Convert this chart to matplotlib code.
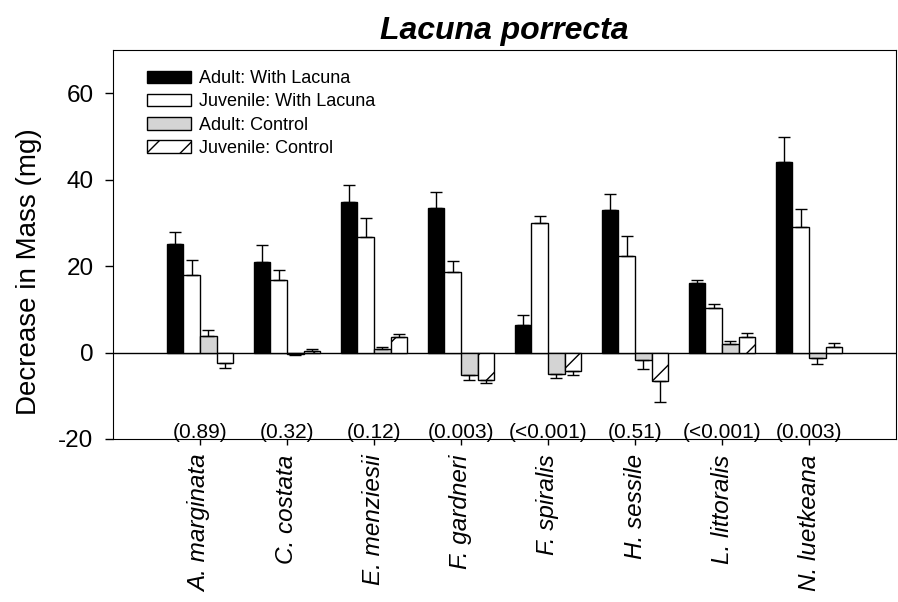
import numpy as np
import matplotlib
matplotlib.use("Agg")
import matplotlib.pyplot as plt

plt.rcParams['font.family'] = ['Liberation Sans', 'DejaVu Sans']
plt.rcParams['axes.unicode_minus'] = False
plt.rcParams['hatch.linewidth'] = 1.0

species = ["A. marginata", "C. costata", "E. menziesii", "F. gardneri",
           "F. spiralis", "H. sessile", "L. littoralis", "N. luetkeana"]
p_values = ["(0.89)", "(0.32)", "(0.12)", "(0.003)",
            "(<0.001)", "(0.51)", "(<0.001)", "(0.003)"]

series_names = ["Adult: With Lacuna", "Juvenile: With Lacuna",
                "Adult: Control", "Juvenile: Control"]

adult_lacuna = [25.2, 21.0, 34.8, 33.4, 6.3, 33.0, 16.0, 44.2]
adult_lacuna_se = [2.8, 3.8, 3.9, 3.8, 2.3, 3.8, 0.9, 5.6]
juv_lacuna = [18.0, 16.9, 26.8, 18.7, 29.9, 22.3, 10.2, 29.0]
juv_lacuna_se = [3.4, 2.2, 4.4, 2.5, 1.8, 4.6, 1.1, 4.2]
adult_control = [3.9, -0.3, 0.9, -5.1, -4.9, -1.8, 2.0, -1.2]
adult_control_se = [1.4, 0.3, 0.3, 1.3, 0.9, 2.0, 0.6, 1.4]
juv_control = [-2.5, 0.3, 3.7, -6.3, -4.2, -6.5, 3.7, 1.2]
juv_control_se = [1.0, 0.5, 0.5, 0.8, 0.9, 4.9, 0.8, 1.1]

values = [adult_lacuna, juv_lacuna, adult_control, juv_control]
errors = [adult_lacuna_se, juv_lacuna_se, adult_control_se, juv_control_se]
faces = ["black", "white", "#d4d4d4", "white"]
hatches = [None, None, None, "/"]

fig = plt.figure(figsize=(8.98, 6.02), dpi=100)
ax = fig.add_axes([0.1258, 0.2708, 0.872, 0.646])

x = np.arange(len(species))
width = 0.19
for k in range(4):
    vals = np.array(values[k])
    err = np.array(errors[k])
    # one-sided error bars, pointing away from zero
    lower = np.where(vals < 0, err, 0)
    upper = np.where(vals >= 0, err, 0)
    ax.bar(x + (k - 1.5) * width, vals, width, color=faces[k], edgecolor="black",
           linewidth=1.0, hatch=hatches[k], label=series_names[k],
           yerr=[lower, upper], capsize=4.3,
           error_kw=dict(ecolor="black", elinewidth=1.0, capthick=1.0))

ax.axhline(0, color="black", linewidth=1.0, zorder=0.5)

for i, p in enumerate(p_values):
    ax.text(x[i], -18.4, p, ha="center", va="center", fontsize=15)

ax.set_xlim(-1, 8)
ax.set_ylim(-20, 70)
ax.set_yticks([-20, 0, 20, 40, 60])
ax.set_xticks(x)
ax.set_xticklabels(species, rotation=90, fontstyle="italic", fontsize=17.5)
ax.tick_params(axis="y", labelsize=17.5, direction="out", length=6, width=1, pad=8)
ax.tick_params(axis="x", direction="out", length=4, width=1, pad=7)
ax.set_ylabel("Decrease in Mass (mg)", fontsize=20)
ax.yaxis.set_label_coords(-0.09, 0.43)
ax.set_title("Lacuna porrecta", fontsize=23, fontweight="bold", fontstyle="italic", pad=8)

leg = ax.legend(loc="upper left", frameon=False, fontsize=13,
                handlelength=2.4, handleheight=0.7, handletextpad=0.45,
                labelspacing=0.34, bbox_to_anchor=(0.023, 0.99))

plt.savefig("out.png", dpi=100)
